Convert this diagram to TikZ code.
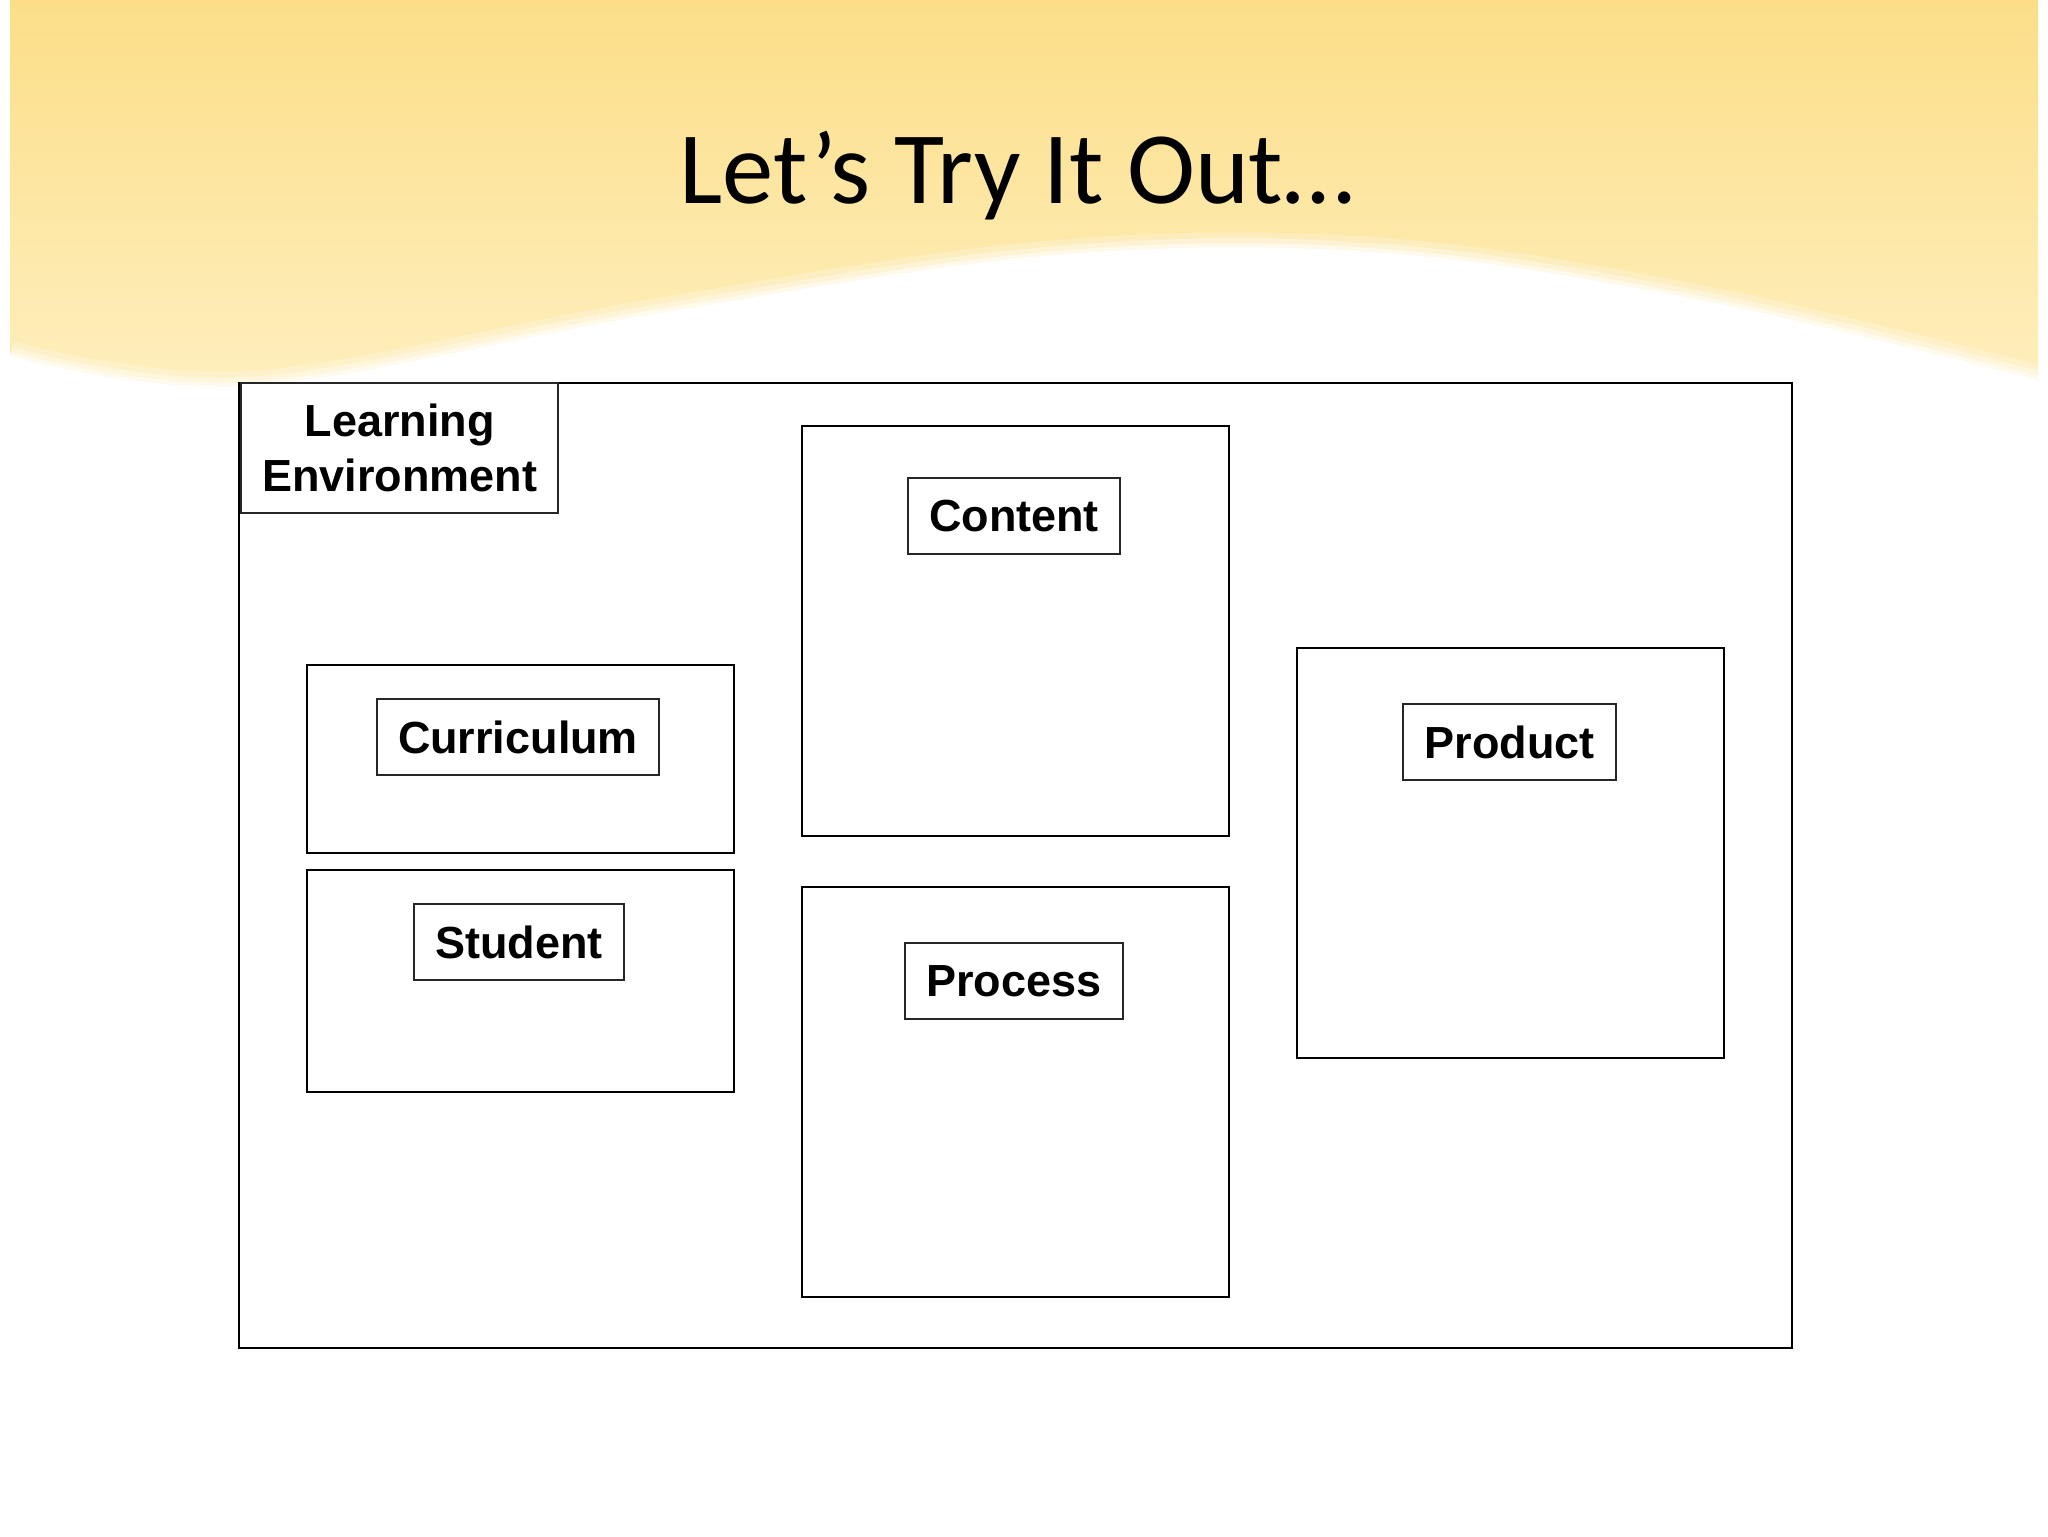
\documentclass[tikz,border=0pt]{standalone}
\usepackage{fontspec}
\setmainfont{Carlito}
\newfontfamily\labfont{Liberation Sans}
\definecolor{bantop}{RGB}{252,222,136}
\definecolor{banbot}{RGB}{254,239,190}
\tikzset{
  frame/.style={draw=black, line width=0.6pt, inner sep=0pt, fill=white},
  labbox/.style={draw=black!85, line width=0.35pt, inner sep=0pt, fill=white,
    font=\labfont\bfseries\fontsize{12.8}{15.6}\selectfont, align=center},
  titletext/.style={font=\fontsize{29.2}{34}\selectfont, anchor=base, inner sep=0pt}
}
\begin{document}
\begin{tikzpicture}[x=0.1mm, y=-0.1mm]
\useasboundingbox (0,0) rectangle (2048,1536);
\fill[white] (0,0) rectangle (2048,1536);
% banner
\shade[top color=bantop, bottom color=banbot]
  (10,0) -- (2038,0) --
  plot[smooth, tension=0.6] coordinates {(2038,380) (1700,300) (1372,252) (1045,256) (653,314) (250,386) (10,356)} -- cycle;
\foreach \w/\o in {30/0.25, 18/0.35, 8/0.5}{
  \draw[white, line width=\w*0.1mm, opacity=\o]
  plot[smooth, tension=0.6] coordinates {(2038,380) (1700,300) (1372,252) (1045,256) (653,314) (250,386) (10,356)};
}
% title
\node[titletext] (title) at (1017,203) {Let’s Try It Out…};
% outer frame
\node[frame, minimum width=155.3mm, minimum height=96.5mm] (le) at (1015.5,865.5) {};
\node[labbox, minimum width=31.7mm, minimum height=13mm] (lelabel) at (399.5,448) {Learning\\Environment};
% curriculum
\node[frame, minimum width=42.7mm, minimum height=18.8mm] (curbox) at (520.5,759) {};
\node[labbox, minimum width=28.2mm, minimum height=7.6mm] (curlabel) at (518,737) {Curriculum};
% student
\node[frame, minimum width=42.7mm, minimum height=22.2mm] (stubox) at (520.5,981) {};
\node[labbox, minimum width=21mm, minimum height=7.6mm] (stulabel) at (519,942) {Student};
% content
\node[frame, minimum width=42.7mm, minimum height=41mm] (conbox) at (1015.5,631) {};
\node[labbox, minimum width=21.2mm, minimum height=7.6mm] (conlabel) at (1014,516) {Content};
% process
\node[frame, minimum width=42.7mm, minimum height=41mm] (probox) at (1015.5,1092) {};
\node[labbox, minimum width=21.8mm, minimum height=7.6mm] (prolabel) at (1014,981) {Process};
% product
\node[frame, minimum width=42.7mm, minimum height=41mm] (prdbox) at (1510.5,853) {};
\node[labbox, minimum width=21.3mm, minimum height=7.6mm] (prdlabel) at (1509.5,742) {Product};
\end{tikzpicture}
\end{document}
